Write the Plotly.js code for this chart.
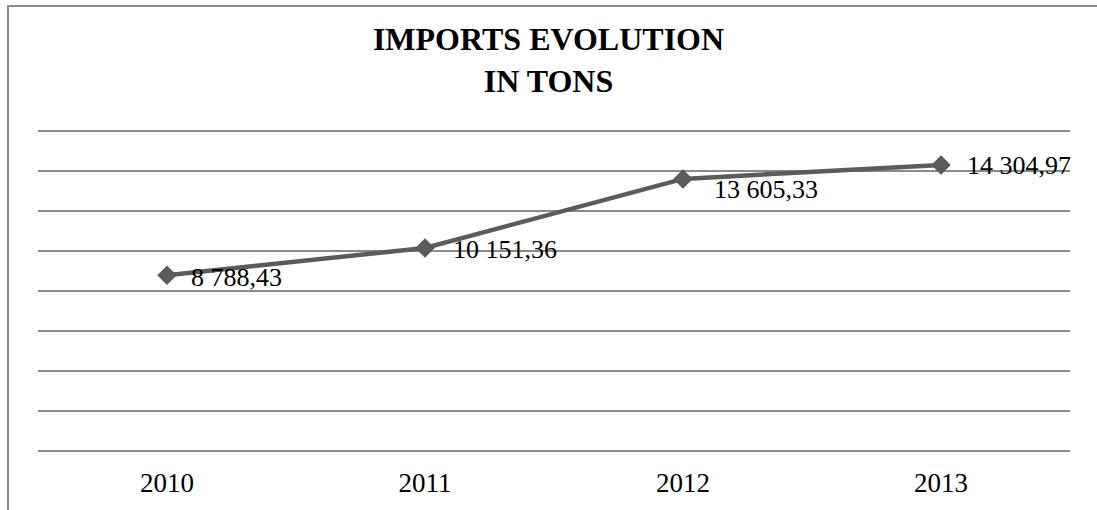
<!DOCTYPE html>
<html>
<head>
<meta charset="utf-8">
<script src="https://cdn.plot.ly/plotly-3.0.1.min.js"></script>
<style>
  html, body { margin: 0; padding: 0; background: #fff; }
  #wrap { position: relative; width: 1097px; height: 510px; }
  #chart { position: absolute; left: 0; top: 0; width: 1097px; height: 510px; }
  #frame { position: absolute; left: 7px; top: 5px; right: 0; bottom: 0;
           border-left: 2px solid #8a8a8a; border-top: 2px solid #8a8a8a; pointer-events: none; }
</style>
</head>
<body>
<div id="wrap">
  <div id="chart"></div>
  <div id="frame"></div>
</div>
<script>
const years = ['2010', '2011', '2012', '2013'];
const imports = [8788.43, 10151.36, 13605.33, 14304.97];
const labels = ['8 788,43', '10 151,36', '13 605,33', '14 304,97'];
const gridValues = [0, 2000, 4000, 6000, 8000, 10000, 12000, 14000, 16000];
// label offsets (style only), pixels
const labelXShift = [22, 26, 29, 24];
const labelYShift = [-2, -2, -11, -1];

const FONT = 'Liberation Serif';

const trace = {
  x: years,
  y: imports,
  type: 'scatter',
  mode: 'lines+markers',
  line: { color: '#5b5b5b', width: 4.5 },
  marker: { symbol: 'diamond', size: 15, color: '#5b5b5b' },
  hoverinfo: 'skip'
};

const annotations = years.map((yr, i) => ({
  x: i, y: imports[i], xref: 'x', yref: 'y',
  text: labels[i], showarrow: false,
  xanchor: 'left', yanchor: 'middle',
  xshift: labelXShift[i], yshift: labelYShift[i],
  font: { family: FONT, size: 26, color: '#000000' }
}));

const layout = {
  width: 1097, height: 510,
  margin: { l: 38, r: 27, t: 123, b: 59 },
  paper_bgcolor: '#fff', plot_bgcolor: '#fff',
  showlegend: false,
  title: {
    text: '<b>IMPORTS EVOLUTION<br>IN TONS</b>',
    font: { family: FONT, size: 32, color: '#000' },
    x: 0.5, xanchor: 'center',
    y: 1 - 50 / 510, yanchor: 'top', yref: 'container'
  },
  xaxis: {
    type: 'category',
    range: [-0.5, 3.5],
    showgrid: false, zeroline: false, showline: false,
    ticks: '',
    ticklabelstandoff: 13,
    tickfont: { family: FONT, size: 27, color: '#000' },
    fixedrange: true
  },
  yaxis: {
    range: [0, 16400],
    tickvals: gridValues,
    showticklabels: false,
    showgrid: true, gridcolor: '#8a8a8a', gridwidth: 2,
    zeroline: true, zerolinecolor: '#8a8a8a', zerolinewidth: 2,
    showline: false, ticks: '',
    fixedrange: true
  },
  annotations: annotations
};

Plotly.newPlot('chart', [trace], layout, { displayModeBar: false, staticPlot: true });
</script>
</body>
</html>
